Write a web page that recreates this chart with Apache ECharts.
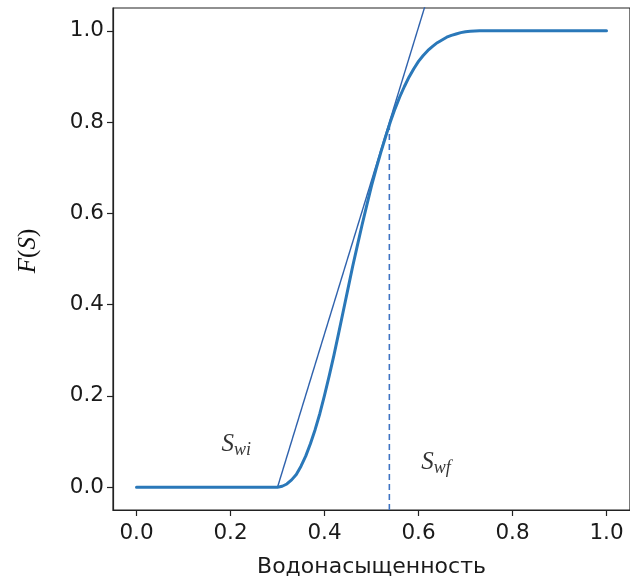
<!DOCTYPE html>
<html>
<head>
<meta charset="utf-8">
<script src="https://cdn.jsdelivr.net/npm/echarts@6/dist/echarts.min.js"></script>
<style>html,body{margin:0;padding:0;background:#fff;}#c{width:630px;height:583px;}</style>
</head>
<body>
<div id="c"></div>
<script>
// Saturation (x) and fractional flow F(S) (y)
const saturation = [0.00, 0.10, 0.20, 0.30, 0.31, 0.32, 0.33, 0.34, 0.35, 0.36, 0.37, 0.38, 0.39, 0.40, 0.41, 0.42, 0.43, 0.44, 0.45, 0.46, 0.47, 0.48, 0.49, 0.50, 0.51, 0.52, 0.53, 0.54, 0.55, 0.56, 0.57, 0.58, 0.59, 0.60, 0.61, 0.62, 0.63, 0.64, 0.65, 0.66, 0.67, 0.68, 0.69, 0.70, 0.71, 0.72, 0.73, 0.74, 0.75, 0.80, 0.90, 1.00];
const fractionalFlow = [0.000, 0.000, 0.000, 0.000, 0.002, 0.007, 0.016, 0.028, 0.046, 0.068, 0.095, 0.126, 0.161, 0.201, 0.244, 0.289, 0.337, 0.386, 0.435, 0.484, 0.530, 0.575, 0.618, 0.660, 0.698, 0.734, 0.768, 0.800, 0.829, 0.855, 0.878, 0.899, 0.917, 0.933, 0.946, 0.957, 0.966, 0.974, 0.980, 0.986, 0.990, 0.993, 0.996, 0.998, 0.999, 0.9995, 1.000, 1.000, 1.000, 1.000, 1.000, 1.000];
// Tangent (Welge) line from S_wi through the front point
const tangentX = [0.30, 0.62];
const tangentY = [0.00, 1.075];
// Front saturation vertical marker
const frontX = [0.538, 0.538];
const frontY = [-0.05, 0.797];
// Annotation positions
const annotX = [0.181, 0.606];
const annotY = [0.093, 0.055];
const annotText = ['{s|S}{sub|wi}', '{s|S}{sub|wf}'];
// Tick values
const xTicks = [0, 0.2, 0.4, 0.6, 0.8, 1.0];
const yTicks = [0, 0.2, 0.4, 0.6, 0.8, 1.0];

const zip = (a, b) => a.map((v, i) => [v, b[i]]);
const labelFont = { fontFamily: 'DejaVu Sans', fontSize: 21.5, color: '#1a1a1a' };

const chart = echarts.init(document.getElementById('c'), null, { renderer: 'canvas' });
chart.setOption({
  animation: false,
  backgroundColor: '#fff',
  grid: { left: 113, top: 8, width: 517, height: 504, show: true, borderColor: '#222', borderWidth: 1.2, containLabel: false },
  xAxis: {
    type: 'value', min: -0.05, max: 1.05,
    name: 'Водонасыщенность', nameLocation: 'middle', nameGap: 46,
    nameTextStyle: { fontFamily: 'DejaVu Sans', fontSize: 22, color: '#1a1a1a' },
    axisLine: { show: true, onZero: false, lineStyle: { color: '#222', width: 1.2 } },
    axisTick: { show: true, length: 6, customValues: xTicks, lineStyle: { color: '#222', width: 1.2 } },
    axisLabel: Object.assign({ margin: 12, customValues: xTicks, formatter: v => v.toFixed(1) }, labelFont),
    splitLine: { show: false }
  },
  yAxis: {
    type: 'value', min: -0.05, max: 1.05,
    name: '{i|F}{r|(}{i|S}{r|)}', nameLocation: 'middle', nameGap: 72, nameRotate: 90,
    nameTextStyle: { padding: [0, 0, 0, 16], rich: {
      i: { fontFamily: 'Liberation Serif', fontStyle: 'italic', fontSize: 25, color: '#111' },
      r: { fontFamily: 'Liberation Serif', fontSize: 25, color: '#111' }
    } },
    axisLine: { show: true, onZero: false, lineStyle: { color: '#222', width: 1.2 } },
    axisTick: { show: true, length: 6, customValues: yTicks, lineStyle: { color: '#222', width: 1.2 } },
    axisLabel: Object.assign({ margin: 9, customValues: yTicks, formatter: v => v.toFixed(1) }, labelFont),
    splitLine: { show: false }
  },
  series: [
    {
      type: 'line', data: zip(tangentX, tangentY), showSymbol: false, clip: true,
      lineStyle: { color: '#2f62ad', width: 1.4 }, z: 2
    },
    {
      type: 'line', data: zip(frontX, frontY), showSymbol: false, clip: true,
      lineStyle: { color: '#3f74c4', width: 1.6, type: [6, 4] }, z: 2
    },
    {
      type: 'line', data: zip(saturation, fractionalFlow), showSymbol: false, smooth: false,
      lineStyle: { color: '#2a78b9', width: 3, join: 'round', cap: 'round' }, z: 3
    },
    {
      type: 'scatter', symbolSize: 0, data: zip(annotX, annotY).map((p, i) => ({ value: p, label: { formatter: annotText[i] } })),
      label: {
        show: true, position: 'right', distance: 0,
        rich: {
          s: { fontFamily: 'Liberation Serif', fontStyle: 'italic', fontSize: 25, color: '#000', lineHeight: 30, verticalAlign: 'middle' },
          sub: { fontFamily: 'Liberation Serif', fontStyle: 'italic', fontSize: 18, color: '#000', lineHeight: 30, verticalAlign: 'bottom' }
        }
      },
      z: 4
    }
  ]
});
</script>
</body>
</html>
